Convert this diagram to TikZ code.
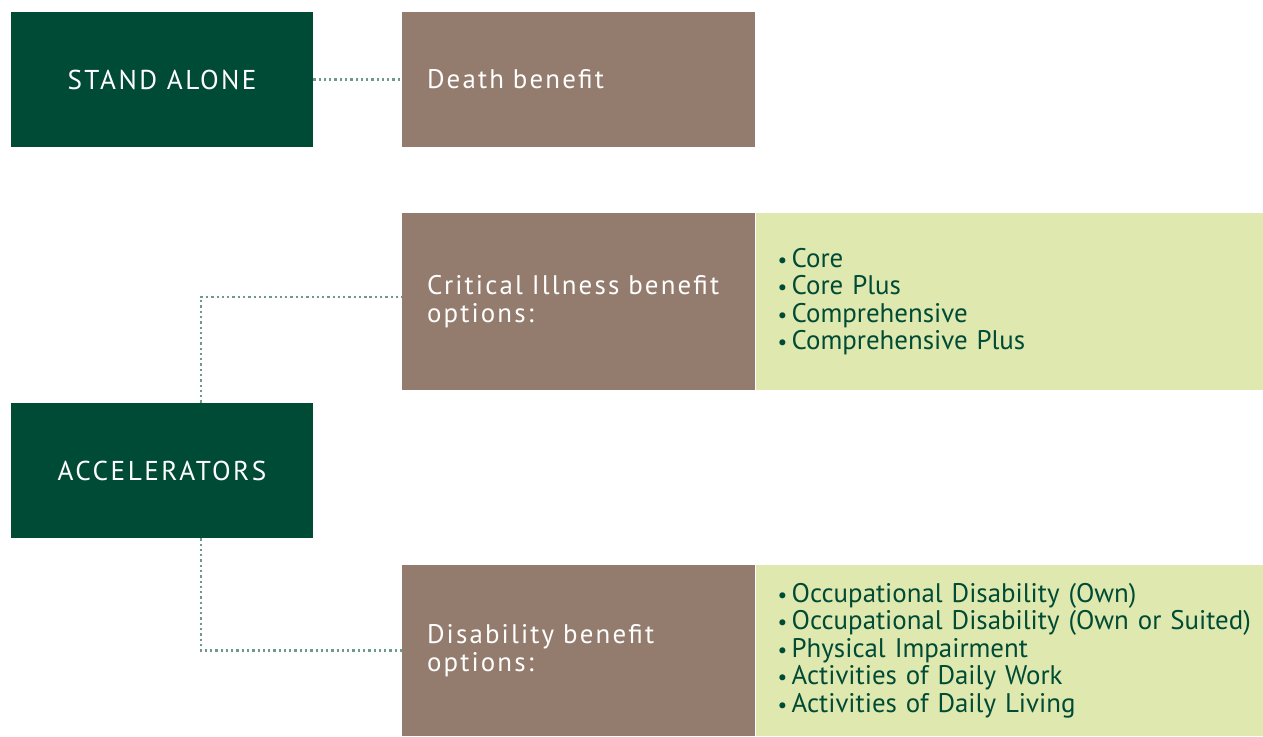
\documentclass[tikz,border=0pt]{standalone}
\usepackage{fontspec}
\setmainfont{PT Sans}
\usetikzlibrary{positioning}
\definecolor{darkgreen}{HTML}{004B35}
\definecolor{taupe}{HTML}{937C6E}
\definecolor{palegreen}{HTML}{DFE8AE}
\definecolor{dotgreen}{HTML}{6F9A86}
\newcommand{\opt}[1]{\makebox[0.28cm][l]{\scalebox{0.8}{•}}#1}
\tikzset{
  headbox/.style={fill=darkgreen, text=white, minimum width=6.04cm, minimum height=2.7cm,
    inner sep=0pt, font=\fontsize{15.5}{16}\selectfont\addfontfeatures{LetterSpace=9}},
  benefitbox/.style={fill=taupe, text=white, minimum width=7.06cm, text width=6.06cm,
    inner xsep=0.5cm, inner ysep=0pt, align=left,
    font=\fontsize{15.3}{15.6}\selectfont\addfontfeatures{LetterSpace=8}},
  optionbox/.style={fill=palegreen, text=darkgreen, minimum width=10.16cm, text width=9.72cm,
    inner xsep=0.44cm, inner ysep=0pt, align=left, anchor=west,
    font=\fontsize{15.3}{15.6}\selectfont},
  link/.style={dotgreen, line width=1.2pt, dash pattern=on 1.3pt off 1.7pt}
}
\begin{document}
\begin{tikzpicture}
\useasboundingbox (0,0) rectangle (25.26,-14.72);
\node[headbox] (stand) at (3.24,-1.59) {STAND ALONE};
\node[headbox] (accel) at (3.24,-9.41) {ACCELERATORS};
\node[benefitbox, minimum height=2.7cm] (death) at (11.57,-1.59) {Death benefit};
\node[benefitbox, minimum height=3.54cm] (crit) at (11.57,-6.03) {Critical Illness benefit\\ options:};
\node[benefitbox, minimum height=3.42cm] (disab) at (11.57,-13.01) {Disability benefit\\ options:};
\node[optionbox, minimum height=3.54cm] (critopts) at (crit.east)
  {\opt{Core}\\ \opt{Core Plus}\\ \opt{Comprehensive}\\ \opt{Comprehensive Plus}};
\node[optionbox, minimum height=3.42cm] (disabopts) at (disab.east)
  {\opt{Occupational Disability (Own)}\\ \opt{Occupational Disability (Own or Suited)}\\
   \opt{Physical Impairment}\\ \opt{Activities of Daily Work}\\ \opt{Activities of Daily Living}};
\draw[link] (stand) -- (death);
\draw[link] ([xshift=0.78cm]accel.north) |- ([yshift=0.09cm]crit.west);
\draw[link] ([xshift=0.78cm]accel.south) |- (disab.west);
\end{tikzpicture}
\end{document}
